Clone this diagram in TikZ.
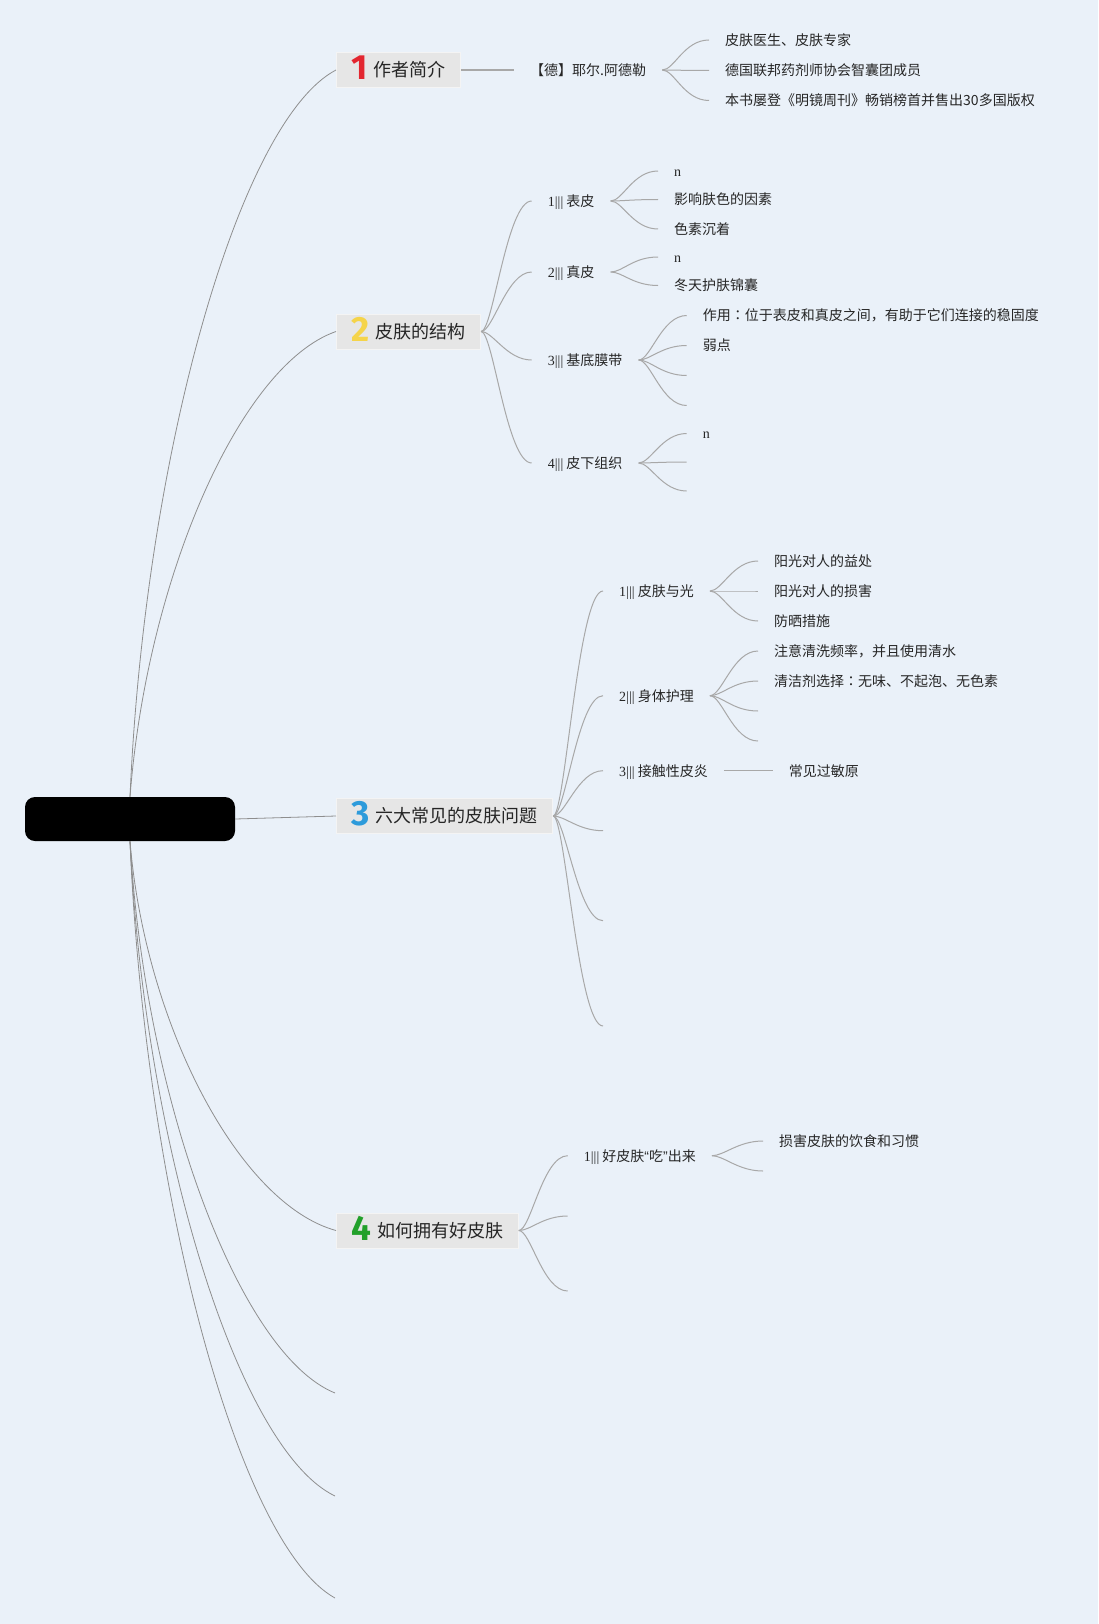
\documentclass[tikz,border=0pt]{standalone}
\usepackage{fontspec}
\usepackage{xcolor}
\usepackage{tikz}
\usetikzlibrary{arrows.meta,calc,positioning}
\setmainfont{Liberation Serif}
\newfontfamily\cjk{Noto Sans CJK SC}
\newfontfamily\cjkjp{Noto Sans CJK JP}
\newfontfamily\latinsans{Liberation Sans}
\newfontfamily\numfont{Fira Sans}
\definecolor{pagebg}{HTML}{EAF1F9}
\definecolor{boxfill}{HTML}{E6E6E6}
\definecolor{boxline}{HTML}{F4F4F4}
\definecolor{textdark}{HTML}{262626}
\definecolor{stemgray}{HTML}{8E8E8E}
\definecolor{forkgray}{HTML}{A8A8A8}
\definecolor{numred}{HTML}{E3262F}
\definecolor{numyellow}{HTML}{F5D44A}
\definecolor{numblue}{HTML}{2D9BDB}
\definecolor{numgreen}{HTML}{22A02A}
\newcommand{\topicnum}[2]{\raisebox{-3pt}{\numfont\bfseries\fontsize{35pt}{35pt}\selectfont\color{#1}#2}\hspace{6pt}}
\newcommand{\subidx}[1]{{\rmfamily #1|||}\ }
\newcommand{\fwcolon}{{\cjkjp ：}}
\tikzset{
  stem/.style={draw=stemgray,line width=0.8pt},
  fork/.style={draw=forkgray,line width=1pt,out=0,in=180,out distance=12pt,in distance=25pt},
  link/.style={draw=forkgray,line width=1.6pt},
  rootbox/.style={fill=black,rounded corners=10pt,minimum width=210pt,minimum height=44pt},
  topic/.style={draw=boxline,fill=boxfill,line width=1pt,anchor=west,minimum height=35pt,
    inner xsep=15pt,inner ysep=0pt,text height=15.8pt,text depth=2.2pt,
    font=\cjk\fontsize{18pt}{20pt}\selectfont,text=textdark},
  leaf/.style={anchor=west,inner xsep=16pt,inner ysep=0pt,text height=12.3pt,text depth=1.7pt,
    font=\cjk\fontsize{14pt}{16pt}\selectfont,text=textdark}
}

\begin{document}
\begin{tikzpicture}[x=1pt,y=-1pt]
  \fill[pagebg] (0,0) rectangle (1098,1624);
  \useasboundingbox (0,0) rectangle (1098,1624);

  \node[rootbox] (root) at (130,819) {};

  \node[topic] (b1) at (336,70) {\topicnum{numred}{1}作者简介};
  \node[topic] (b2) at (336,331.5) {\topicnum{numyellow}{2}皮肤的结构};
  \node[topic] (b3) at (336,816) {\topicnum{numblue}{3}六大常见的皮肤问题};
  \node[topic] (b4) at (336,1230.5) {\topicnum{numgreen}{4}如何拥有好皮肤};
  \coordinate (b5) at (335,1393);
  \coordinate (b6) at (335,1496);
  \coordinate (b7) at (335,1598);

  % author
  \node[leaf] (a1) at (514,70) {【德】耶尔.阿德勒};
  \node[leaf] (a11) at (709,40) {皮肤医生、皮肤专家};
  \node[leaf] (a12) at (709,70.5) {德国联邦药剂师协会智囊团成员};
  \node[leaf] (a13) at (709,100.5) {本书屡登《明镜周刊》畅销榜首并售出30多国版权};

  % skin structure
  \node[leaf] (s1) at (531.7,201) {\subidx{1}表皮};
  \node[leaf] (s2) at (531.7,272) {\subidx{2}真皮};
  \node[leaf] (s3) at (531.7,360) {\subidx{3}基底膜带};
  \node[leaf] (s4) at (531.7,463) {\subidx{4}皮下组织};
  \node[leaf] (s11) at (658,171) {\rmfamily n};
  \node[leaf] (s12) at (658,199.5) {影响肤色的因素};
  \node[leaf] (s13) at (658,229) {色素沉着};
  \node[leaf] (s21) at (658,257) {\rmfamily n};
  \node[leaf] (s22) at (658,285.5) {冬天护肤锦囊};
  \node[leaf] (s31) at (686.7,315.5) {作用\fwcolon 位于表皮和真皮之间，有助于它们连接的稳固度};
  \node[leaf] (s32) at (686.7,345.5) {弱点};
  \coordinate (s33) at (686.7,375.5);
  \coordinate (s34) at (686.7,405.5);
  \node[leaf] (s41) at (686.7,433.5) {\rmfamily n};
  \coordinate (s42) at (686.7,462);
  \coordinate (s43) at (686.7,491);

  % skin problems
  \node[leaf] (t1) at (603,591) {\subidx{1}皮肤与光};
  \node[leaf] (t2) at (603,695.7) {\subidx{2}身体护理};
  \node[leaf] (t3) at (603,770.7) {\subidx{3}接触性皮炎};
  \coordinate (t4) at (603,830.7);
  \coordinate (t5) at (603,920.7);
  \coordinate (t6) at (603,1026);
  \node[leaf] (t11) at (758,561) {阳光对人的益处};
  \node[leaf] (t12) at (758,591) {阳光对人的损害};
  \node[leaf] (t13) at (758,621) {防晒措施};
  \node[leaf] (t21) at (758,651) {注意清洗频率，并且使用清水};
  \node[leaf] (t22) at (758,681) {清洁剂选择\fwcolon 无味、不起泡、无色素};
  \coordinate (t23) at (758,711);
  \coordinate (t24) at (758,741);
  \node[leaf] (t31) at (772.7,770.7) {常见过敏原};

  % good skin
  \node[leaf] (u1) at (567.7,1155.7) {\subidx{1}好皮肤{\latinsans “}吃{\latinsans ”}出来};
  \coordinate (u2) at (567.7,1216);
  \coordinate (u3) at (567.7,1291);
  \node[leaf] (u11) at (763,1141) {损害皮肤的饮食和习惯};
  \coordinate (u12) at (763,1171);

  \draw[stem] (root.north) .. controls (145,455) and (239,121) .. (b1.west);
  \draw[stem] (root.north) .. controls (147,578) and (240,365) .. (b2.west);
  \draw[stem] (root.east) -- (b3.west);
  \draw[stem] (root.south) .. controls (145,1024) and (239,1204) .. (b4.west);
  \draw[stem] (root.south) .. controls (145,1100) and (239,1354) .. (b5);
  \draw[stem] (root.south) .. controls (145,1149) and (239,1450) .. (b6);
  \draw[stem] (root.south) .. controls (145,1197) and (239,1545) .. (b7);

  \draw[link] (b1.east) -- (a1.west);
  \foreach \c in {a11,a12,a13} \draw[fork] (a1.east) to (\c.west);

  \foreach \c in {s1,s2,s3,s4} \draw[fork] (b2.east) to (\c.west);
  \foreach \c in {s11.west,s12.west,s13.west} \draw[fork] (s1.east) to (\c);
  \foreach \c in {s21.west,s22.west} \draw[fork] (s2.east) to (\c);
  \foreach \c in {s31.west,s32.west,s33,s34} \draw[fork] (s3.east) to (\c);
  \foreach \c in {s41.west,s42,s43} \draw[fork] (s4.east) to (\c);

  \foreach \c in {t1.west,t2.west,t3.west,t4,t5,t6} \draw[fork] (b3.east) to (\c);
  \foreach \c in {t11,t12,t13} \draw[fork] (t1.east) to (\c.west);
  \foreach \c in {t21.west,t22.west,t23,t24} \draw[fork] (t2.east) to (\c);
  \draw[fork] (t3.east) to (t31.west);

  \foreach \c in {u1.west,u2,u3} \draw[fork] (b4.east) to (\c);
  \foreach \c in {u11.west,u12} \draw[fork] (u1.east) to (\c);
\end{tikzpicture}
\end{document}
